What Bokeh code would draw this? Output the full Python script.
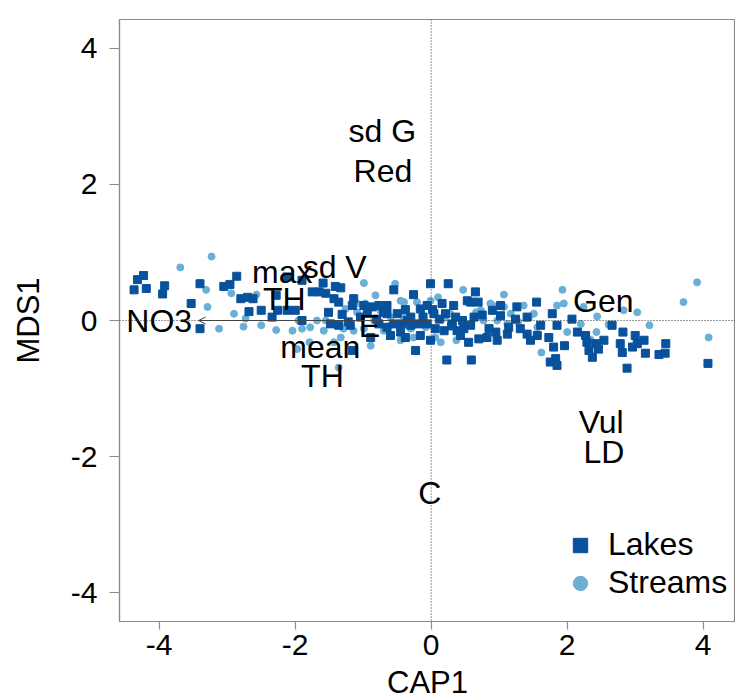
from bokeh.plotting import figure
from bokeh.models import (Range1d, Span, Arrow, OpenHead, ColumnDataSource,
                          FixedTicker, Legend, LegendItem)
from bokeh.core.properties import value
from bokeh.embed import file_html
from bokeh.resources import INLINE

# ---------------- data ----------------
lakes_x = [-4.32, -4.23, -4.37, -4.19, -3.92, -3.95, -3.40, -3.53, -3.40, -2.86,
           -2.96, -3.05, -2.80, -2.70, -2.62, -2.68, -2.50, -2.34, -2.28,
           -2.12, -1.90, -1.75, -1.65, -1.90, -2.00, -2.12, -2.26,
           -1.59, -1.41, -1.33, -1.55, -1.43, -1.36, -1.14, -1.16, -0.99, -0.87,
           -0.77, -0.65, -0.55, -0.26, -0.01, -1.51, -1.31, -1.04, -0.94, -0.65,
           -0.50, -0.38, -0.30, -0.16, -0.06, 0.04, -1.48, -1.36, -1.19, -0.77,
           -0.65, -0.55, -0.43, -0.30, -0.18, -0.06, 0.06, -0.45, -0.60, -0.38,
           -0.16, -0.01, -0.89, -1.16, -0.23,
           0.25, 0.65, 0.58, 0.69, 1.55, 0.16, 0.33, 0.21, 0.36, 0.46, 0.58,
           0.63, 0.19, 0.38, 0.55, 0.70, 0.85, 0.90, 1.02, 1.02, 0.97, 1.12,
           1.26, 1.24, 1.31, 1.41, 1.41, 1.46, 1.56, 1.61, 1.73, 1.78, 1.80,
           1.85, 1.96, 2.07, 2.15, 0.23, 0.59, 1.75, 1.83, 1.85, 2.29, 2.32,
           0.31, 0.43, 0.82, 0.95, 1.14, 0.53,
           2.27, 2.37, 2.42, 2.46, 2.54, 2.66, 2.78, 2.81, 2.82, 2.88, 2.96,
           3.00, 3.03, 3.13, 3.15, 3.35, 3.45, 3.44, 4.07,
           -0.80, -0.35, -0.12, 0.12, 0.30, 0.48, 0.75, -1.22, -0.70, 0.02]
lakes_y = [0.60, 0.66, 0.45, 0.47, 0.51, 0.39, 0.54, 0.25, -0.12, 0.65,
           0.53, 0.50, 0.32, 0.34, 0.32, 0.13, 0.15, 0.05, 0.37,
           0.64, 0.59, 0.42, 0.42, 0.00, 0.15, 0.15, 0.15,
           0.55, 0.50, 0.48, 0.40, 0.32, 0.27, 0.32, 0.22, 0.22, 0.20,
           0.22, 0.22, 0.45, 0.38, 0.54, 0.12, 0.09, 0.05, 0.11, 0.10,
           0.10, 0.16, 0.05, 0.17, 0.22, 0.10, -0.05, -0.07, -0.07, -0.05,
           -0.10, -0.05, -0.05, -0.07, -0.05, -0.05, -0.12, -0.17, -0.22, -0.25,
           -0.22, -0.29, -0.25, -0.44, -0.44,
           0.54, 0.42, 0.27, 0.27, 0.27, 0.25, 0.22, 0.10, 0.05, 0.00, -0.07,
           0.05, -0.15, -0.15, -0.32, -0.27, -0.12, 0.15, 0.22, 0.07, -0.29, -0.20,
           0.20, 0.02, -0.12, -0.20, 0.05, -0.29, -0.22, -0.07, -0.25, 0.10, -0.39,
           -0.07, -0.37, 0.02, -0.17, -0.58, -0.58, -0.61, -0.56, -0.66, -0.32, -0.44,
           -0.05, -0.22, -0.25, -0.17, -0.10, 0.29,
           -0.22, -0.54, -0.34, -0.42, -0.29, -0.07, -0.34, -0.47, -0.17, -0.70, -0.39,
           -0.22, -0.34, -0.29, -0.48, -0.50, -0.34, -0.48, -0.63,
           0.02, 0.00, 0.05, 0.02, -0.08, -0.12, 0.08, -0.02, 0.12, 0.16]

streams_x = [-3.23, -3.69, -3.31, -3.29, -3.12, -2.94, -2.90, -2.76, -2.73, -2.57,
             -2.50, -2.28,
             -1.79, -1.97, -2.04, -1.90, -1.68, -1.58, -1.36, -1.78, -1.95,
             -0.99, -0.53, -0.82, -0.45, -1.26, -1.09, -0.97, -1.09, -0.75, -0.40,
             -0.21, -0.01, -0.13, -1.55, -1.29, -1.14, -0.99, -0.84, -0.40, -1.33,
             -1.43, -0.89, -0.45, -0.26, -0.70, -0.60, -0.08, 0.06,
             0.47, 1.07, 1.93, 0.10, 0.28, 0.73, 0.87, 0.93, 1.07, 1.17, 1.36,
             1.44, 1.85, 1.95, 2.20, 0.14, 0.37, 0.58, 0.77, 1.12, 1.56, 1.62,
             2.00, 1.51, 0.97,
             2.24, 2.44, 2.43, 2.61, 2.83, 3.03, 3.21, 3.71, 3.91, 4.08, 2.34,
             -0.30, 0.20, 0.44, 0.66, -0.62, 1.28]
streams_y = [0.94, 0.78, 0.45, 0.20, -0.12, 0.40, 0.10, -0.09, 0.03, 0.38,
             -0.07, -0.14,
             -0.32, -0.42, -0.15, -0.12, 0.00, -0.15, -0.69, -0.10, 0.00,
             0.55, 0.54, 0.37, 0.29, 0.17, 0.25, 0.25, 0.12, 0.15, 0.27,
             0.27, 0.29, 0.07, 0.00, -0.12, -0.15, -0.12, 0.00, 0.05, -0.25,
             -0.32, -0.37, -0.29, -0.25, -0.15, 0.05, -0.10, -0.25,
             0.45, 0.38, 0.45, 0.34, 0.10, 0.15, 0.25, 0.21, 0.20, 0.10, 0.22,
             0.05, 0.22, 0.25, -0.05, -0.32, -0.29, -0.05, 0.00, -0.05, -0.10, -0.47,
             -0.17, 0.10, 0.00,
             0.20, 0.06, -0.17, -0.06, 0.15, 0.12, -0.07, 0.27, 0.56, -0.25, -0.28,
             -0.12, 0.04, -0.18, 0.12, -0.08, -0.02]

# biplot labels (one entry per text line)
label_text = ["sd G", "Red", "max", "TH", "sd V", "NO3", "E", "mean", "TH",
              "Gen", "Vul", "LD", "C"]
label_x = [-0.72, -0.71, -2.19, -2.16, -1.42, -4.00, -0.91, -1.63, -1.60,
           2.53, 2.50, 2.54, -0.02]
label_y = [2.78, 2.20, 0.71, 0.32, 0.78, 0.00, -0.08, -0.39, -0.81,
           0.28, -1.49, -1.93, -2.53]

# fitted vector (arrow) for NO3
vec_x = [-3.42]
vec_y = [0.0]

x_ticks = [-4, -2, 0, 2, 4]
y_ticks = [-4, -2, 0, 2, 4]

FONT = "Liberation Sans"
FS = "30px"
FS_TXT = "32px"
GRAY = "#8a8a8a"
LAKE_COL = "#08519c"
STREAM_COL = "#6baed6"

p = figure(frame_width=616, frame_height=602, output_backend="svg",
           toolbar_location=None,
           x_range=Range1d(-4.584, 4.475), y_range=Range1d(-4.42, 4.42),
           min_border_left=119, min_border_right=0, min_border_top=19,
           min_border_bottom=78)
p.xgrid.visible = False
p.ygrid.visible = False
p.background_fill_color = "white"
p.border_fill_color = "white"
p.outline_line_color = GRAY
p.outline_line_width = 1.2

# reference lines
p.add_layout(Span(location=0, dimension="height", line_color="#333333",
                  line_dash="1 2", line_width=1))
p.add_layout(Span(location=0, dimension="width", line_color="#333333",
                  line_dash="1 2", line_width=1))

streams = p.scatter(streams_x, streams_y, marker="circle", size=7,
                    fill_color=STREAM_COL, line_color=STREAM_COL)
lakes = p.scatter(lakes_x, lakes_y, marker="square", size=8,
                  fill_color=LAKE_COL, line_color=LAKE_COL)

vsrc = ColumnDataSource(dict(x0=[0.0] * len(vec_x), y0=[0.0] * len(vec_y),
                             x1=vec_x, y1=vec_y))
p.add_layout(Arrow(source=vsrc, x_start="x0", y_start="y0", x_end="x1", y_end="y1",
                   line_color="#444444", line_width=1,
                   end=OpenHead(size=7, line_color="#444444", line_width=1)))

p.text(x=label_x, y=label_y, text=label_text, text_align="center",
       text_baseline="alphabetic", text_font=value(FONT), text_font_size=FS_TXT,
       text_color="black")

# axes
for ax in (p.xaxis[0], p.yaxis[0]):
    ax.axis_line_color = GRAY
    ax.axis_line_width = 1.2
    ax.major_tick_line_color = GRAY
    ax.major_tick_line_width = 1.2
    ax.minor_tick_line_color = None
    ax.major_tick_in = 0
    ax.major_label_text_font = FONT
    ax.major_label_text_font_size = FS
    ax.major_label_text_color = "black"
    ax.axis_label_text_font = FONT
    ax.axis_label_text_font_size = "31px"
    ax.axis_label_text_font_style = "normal"
    ax.axis_label_text_color = "black"

p.xaxis[0].ticker = FixedTicker(ticks=x_ticks)
p.yaxis[0].ticker = FixedTicker(ticks=y_ticks)
p.xaxis[0].major_label_overrides = {t: str(t) for t in x_ticks}
p.yaxis[0].major_label_overrides = {t: str(t) for t in y_ticks}
p.xaxis[0].major_tick_out = 8
p.yaxis[0].major_tick_out = 10
p.xaxis[0].major_label_standoff = 5
p.yaxis[0].major_label_standoff = 12
p.yaxis[0].major_label_orientation = "horizontal"
p.xaxis[0].axis_label = "CAP1"
p.yaxis[0].axis_label = "MDS1"
p.xaxis[0].axis_label_standoff = 7
p.yaxis[0].axis_label_standoff = 22

legend = Legend(items=[LegendItem(label="Lakes", renderers=[lakes]),
                       LegendItem(label="Streams", renderers=[streams])],
                location=(443, 20), glyph_width=36, glyph_height=36,
                label_standoff=10, spacing=1, padding=0, margin=0,
                border_line_color=None, background_fill_alpha=0,
                label_text_font=FONT, label_text_font_size=FS_TXT,
                label_text_color="black")
p.add_layout(legend)

open("out.html", "w").write(file_html(p, INLINE))
